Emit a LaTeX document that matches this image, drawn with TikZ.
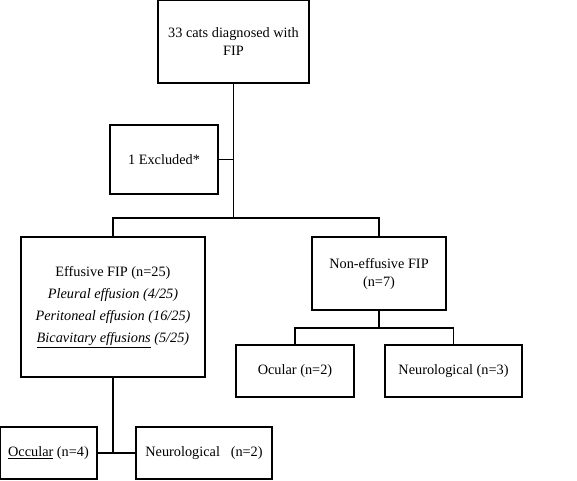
\documentclass[tikz,border=0pt]{standalone}
\usepackage{fontspec}
\setmainfont{Liberation Serif}
\tikzset{box/.style={draw, line width=1.8pt, inner sep=0pt, align=center, font=\fontsize{14.3}{18}\selectfont}}
\begin{document}
\begin{tikzpicture}[x=1pt, y=-1pt, line width=1.8pt]
\useasboundingbox (0,0) rectangle (577,480);
\node[box, minimum width=151pt, minimum height=83pt] (cats) at (233.5,41.5){33 cats diagnosed with\\FIP};
\node[box, minimum width=108pt, minimum height=69pt] (excl) at (164,159.5){1 Excluded*};

\node[box, minimum width=184pt, minimum height=140pt] (eff) at (113,307){Effusive FIP (n=25)\\[4pt]
\textit{Pleural effusion (4/25)}\\[4pt]\textit{Peritoneal effusion (16/25)}\\[4pt]\textit{\underline{Bicavitary effusions} (5/25)}};
\node[box, minimum width=134pt, minimum height=73pt] (noneff) at (379,273.5){Non-effusive FIP\\(n=7)};

\node[box, minimum width=118pt, minimum height=52pt] (ocR) at (295,371){Ocular (n=2)};
\node[box, minimum width=137pt, minimum height=52pt] (neuR) at (453.5,371){Neurological (n=3)};

\node[box, minimum width=97pt, minimum height=52pt] (ocL) at (48.5,453){\underline{Occular} (n=4)};
\node[box, minimum width=136pt, minimum height=52pt] (neuL) at (204,453){Neurological~~~(n=2)};

\coordinate (split0) at (233.5,218);
\coordinate (split1) at (379,328);

\draw[](cats.south) -- (split0);
\draw[](excl.east) -- (excl.east -| cats.south);
\draw[](eff.north) |- (split0) -| (noneff.north);
\draw[](noneff.south) -- (split1);
\draw[](ocR.north) |- (split1) -| (neuR.north);
\draw[](eff.south) -- (eff.south |- ocL.east);
\draw[](ocL.east) -- (neuL.west);

\end{tikzpicture}
\end{document}
